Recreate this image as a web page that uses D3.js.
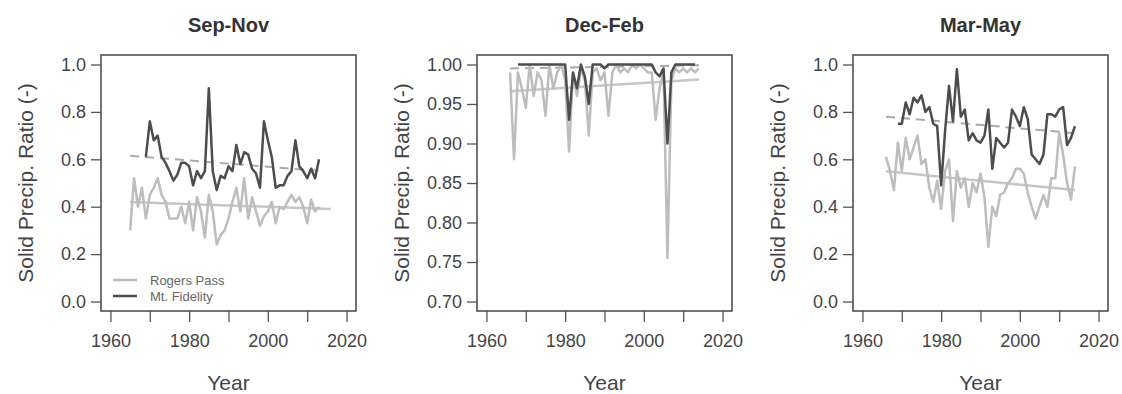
<!DOCTYPE html>
<html>
<head>
  <meta charset="utf-8">
  <title>Solid precipitation ratio</title>
  <script src="https://cdn.jsdelivr.net/npm/d3@7"></script>
  <style>
    body { margin: 0; background: #fff; }
    text { font-family: "Liberation Sans", Arial, sans-serif; fill: #333; }
    .title { font-weight: bold; font-size: 20px; }
    .tick text { font-size: 18px; fill: #444; }
    .axis-title { font-size: 21px; fill: #444; }
    .legend text { font-size: 13px; fill: #666; }
  </style>
</head>
<body>
<svg id="chart" width="1122" height="394"></svg>
<script>
  // seasons (one panel each)
  var seasons = ["Sep-Nov", "Dec-Feb", "Mar-May"];

  // Sep-Nov
  var sonRogersStart = 1965;
  var sonRogers = [0.30, 0.52, 0.40, 0.48, 0.35, 0.45, 0.48, 0.52, 0.45, 0.42,
    0.35, 0.35, 0.35, 0.40, 0.33, 0.42, 0.30, 0.44, 0.38, 0.27,
    0.45, 0.38, 0.24, 0.28, 0.30, 0.35, 0.42, 0.48, 0.38, 0.52,
    0.35, 0.44, 0.38, 0.32, 0.36, 0.38, 0.42, 0.33, 0.40, 0.39,
    0.42, 0.45, 0.42, 0.44, 0.40, 0.33, 0.43, 0.38, 0.40];
  var sonFidelityStart = 1969;
  var sonFidelity = [0.61, 0.76, 0.68, 0.70, 0.61, 0.585, 0.55, 0.51, 0.535, 0.585,
    0.585, 0.57, 0.49, 0.55, 0.52, 0.55, 0.90, 0.55, 0.47, 0.53,
    0.52, 0.57, 0.55, 0.66, 0.58, 0.63, 0.62, 0.56, 0.54, 0.48,
    0.76, 0.68, 0.61, 0.48, 0.49, 0.49, 0.53, 0.55, 0.68, 0.57,
    0.55, 0.52, 0.56, 0.52, 0.60];
  var sonRogersTrend = [[1965, 0.42], [2016, 0.39]];
  var sonFidelityTrend = [[1965, 0.615], [2014, 0.55]];

  // Dec-Feb
  var djfRogersStart = 1966;
  var djfRogers = [0.99, 0.88, 0.99, 0.97, 0.945, 1.0, 0.96, 0.99, 0.98, 0.935,
    1.0, 0.97, 0.99, 1.0, 0.98, 0.89, 0.99, 0.96, 0.995, 0.98,
    0.91, 0.99, 0.995, 0.98, 0.99, 0.935, 0.99, 1.0, 0.99, 0.995,
    0.99, 1.0, 0.995, 1.0, 0.995, 0.99, 0.99, 0.93, 0.97, 0.99,
    0.755, 0.98, 0.995, 0.99, 0.995, 0.99, 0.995, 0.99, 0.995];
  var djfFidelityStart = 1968;
  var djfFidelity = [1.0, 1.0, 1.0, 1.0, 1.0, 1.0, 1.0, 1.0, 1.0, 1.0,
    1.0, 1.0, 1.0, 0.93, 0.99, 0.97, 1.0, 0.985, 0.95, 1.0,
    1.0, 1.0, 0.995, 1.0, 1.0, 1.0, 1.0, 1.0, 1.0, 1.0,
    1.0, 1.0, 1.0, 1.0, 1.0, 0.99, 0.985, 0.995, 0.90, 0.99,
    1.0, 1.0, 1.0, 1.0, 1.0, 1.0];
  var djfRogersTrend = [[1966, 0.966], [2014, 0.981]];
  var djfFidelityTrend = [[1966, 0.995], [2014, 0.999]];

  // Mar-May
  var mamRogersStart = 1966;
  var mamRogers = [0.61, 0.55, 0.47, 0.67, 0.55, 0.69, 0.60, 0.65, 0.70, 0.58,
    0.60, 0.48, 0.42, 0.51, 0.39, 0.55, 0.60, 0.34, 0.55, 0.48,
    0.52, 0.40, 0.50, 0.46, 0.54, 0.44, 0.23, 0.40, 0.36, 0.45,
    0.46, 0.50, 0.52, 0.56, 0.56, 0.54, 0.46, 0.40, 0.35, 0.40,
    0.45, 0.40, 0.52, 0.52, 0.71, 0.62, 0.50, 0.43, 0.57];
  var mamFidelityStart = 1969;
  var mamFidelity = [0.75, 0.75, 0.84, 0.79, 0.86, 0.84, 0.87, 0.80, 0.82, 0.75,
    0.74, 0.49, 0.72, 0.91, 0.76, 0.98, 0.78, 0.81, 0.68, 0.71,
    0.68, 0.67, 0.70, 0.81, 0.56, 0.69, 0.67, 0.65, 0.67, 0.81,
    0.78, 0.74, 0.82, 0.77, 0.62, 0.60, 0.58, 0.62, 0.79, 0.79,
    0.78, 0.81, 0.82, 0.66, 0.69, 0.74];
  var mamRogersTrend = [[1966, 0.55], [2014, 0.47]];
  var mamFidelityTrend = [[1966, 0.78], [2014, 0.71]];

  // axis ticks
  var yearTicks = [1960, 1970, 1980, 1990, 2000, 2010, 2020];
  var yearLabels = [1960, 1980, 2000, 2020];
  var ratioTicks = [0.0, 0.2, 0.4, 0.6, 0.8, 1.0];
  var winterTicks = [0.70, 0.75, 0.80, 0.85, 0.90, 0.95, 1.00];
  var seriesNames = ["Rogers Pass", "Mt. Fidelity"];

  var panels = [
    { rogers: [sonRogersStart, sonRogers], fidelity: [sonFidelityStart, sonFidelity],
      trends: [sonRogersTrend, sonFidelityTrend], ticks: ratioTicks, fmt: ".1f", legend: true },
    { rogers: [djfRogersStart, djfRogers], fidelity: [djfFidelityStart, djfFidelity],
      trends: [djfRogersTrend, djfFidelityTrend], ticks: winterTicks, fmt: ".2f", legend: false },
    { rogers: [mamRogersStart, mamRogers], fidelity: [mamFidelityStart, mamFidelity],
      trends: [mamRogersTrend, mamFidelityTrend], ticks: ratioTicks, fmt: ".1f", legend: false }
  ];

  var lightColor = "#bdbdbd",
    darkColor = "#4d4d4d";

  var svg = d3.select("#chart"),
    boxW = 255,
    boxH = 256,
    boxTop = 55;

  function toPoints(s) {
    return s[1].map((v, i) => [s[0] + i, v]);
  }

  panels.forEach(function (p, i) {
    var left = 101 + i * 376;
    var lo = p.ticks[0], hi = p.ticks[p.ticks.length - 1], pad = (hi - lo) * 0.04;

    var x = d3.scaleLinear().domain([1957.6, 2022.4]).range([left, left + boxW]);
    var y = d3.scaleLinear().domain([lo - pad, hi + pad]).range([boxTop + boxH, boxTop]);

    var g = svg.append("g");

    var line = d3.line().x(d => x(d[0])).y(d => y(d[1]));

    // trend lines
    g.append("path")
      .attr("d", line(p.trends[0]))
      .attr("fill", "none")
      .attr("stroke", "#c6c6c6")
      .attr("stroke-width", 2.5);
    g.append("path")
      .attr("d", line(p.trends[1]))
      .attr("fill", "none")
      .attr("stroke", "#aaaaaa")
      .attr("stroke-width", 2)
      .attr("stroke-dasharray", "9,6");

    // series
    g.append("path")
      .attr("d", line(toPoints(p.rogers)))
      .attr("fill", "none")
      .attr("stroke", lightColor)
      .attr("stroke-width", 2.5)
      .attr("stroke-linejoin", "round");
    g.append("path")
      .attr("d", line(toPoints(p.fidelity)))
      .attr("fill", "none")
      .attr("stroke", darkColor)
      .attr("stroke-width", 2.5)
      .attr("stroke-linejoin", "round");

    // box
    g.append("rect")
      .attr("x", left)
      .attr("y", boxTop)
      .attr("width", boxW)
      .attr("height", boxH)
      .attr("fill", "none")
      .attr("stroke", "#505050")
      .attr("stroke-width", 1.6);

    // y axis
    var yAxis = g.append("g")
      .attr("transform", "translate(" + left + ",0)")
      .call(d3.axisLeft(y).tickValues(p.ticks).tickFormat(d3.format(p.fmt)).tickSize(10).tickPadding(5));
    yAxis.select(".domain").remove();
    yAxis.selectAll("line").attr("stroke", "#555").attr("stroke-width", 1.3);

    // x axis
    var xAxis = g.append("g")
      .attr("transform", "translate(0," + (boxTop + boxH) + ")")
      .call(d3.axisBottom(x).tickValues(yearTicks)
        .tickFormat(d => yearLabels.includes(d) ? d : "").tickSize(11).tickPadding(12));
    xAxis.select(".domain").remove();
    xAxis.selectAll("line").attr("stroke", "#555").attr("stroke-width", 1.3);

    // titles
    g.append("text")
      .attr("class", "title")
      .attr("x", left + boxW / 2)
      .attr("y", 32)
      .attr("text-anchor", "middle")
      .text(seasons[i]);

    g.append("text")
      .attr("class", "axis-title")
      .attr("x", left + boxW / 2)
      .attr("y", 390)
      .attr("text-anchor", "middle")
      .text("Year");

    g.append("text")
      .attr("class", "axis-title")
      .attr("transform", "translate(" + (left - 68) + "," + (boxTop + boxH / 2) + ") rotate(-90)")
      .attr("text-anchor", "middle")
      .text("Solid Precip. Ratio (-)");

    if (p.legend) {
      var lg = g.append("g").attr("class", "legend")
        .attr("transform", "translate(" + (left + 12) + "," + (boxTop + boxH - 31) + ")");
      var item = lg.selectAll("g")
        .data(seriesNames)
        .enter()
        .append("g")
        .attr("transform", (d, k) => "translate(0," + k * 16 + ")");
      item.append("line")
        .attr("x1", 0).attr("x2", 24)
        .attr("stroke", (d, k) => k === 0 ? lightColor : darkColor)
        .attr("stroke-width", 2.5);
      item.append("text")
        .attr("x", 37)
        .attr("dy", "0.35em")
        .text(d => d);
    }
  });
</script>
</body>
</html>
